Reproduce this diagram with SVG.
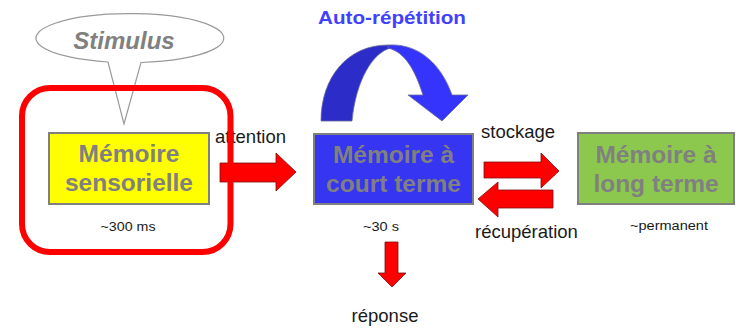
<svg xmlns="http://www.w3.org/2000/svg" width="736" height="329" viewBox="0 0 736 329">
  <style>
    .box { stroke: #808080; stroke-width: 2; }
    .boxText { font-family: "Liberation Sans", Arial, sans-serif; font-weight: bold; font-size: 24.5px; fill: #808080; text-anchor: middle; }
    .label { font-family: "Liberation Sans", Arial, sans-serif; font-size: 18.5px; fill: #1a1a1a; }
    .small { font-family: "Liberation Sans", Arial, sans-serif; font-size: 12.5px; fill: #1a1a1a; }
    .redArrow { fill: #ff0000; stroke: #7a1010; stroke-width: 0.8; stroke-linejoin: miter; }
  </style>

  <rect width="736" height="329" fill="#ffffff"/>

  <!-- connectors -->
  <g id="connectors">
    <!-- attention -->
    <polygon class="redArrow" points="220,163 276,163 276,153 296,172 276,191 276,182 220,182"/>
    <!-- stockage -->
    <polygon class="redArrow" points="484,162 541,162 541,153 559,171 541,188 541,178 484,178"/>
    <!-- recuperation -->
    <polygon class="redArrow" points="553,190 498,190 498,182 478,199 498,217 498,208 553,208"/>
    <!-- reponse -->
    <polygon class="redArrow" points="385,242 398,242 398,273 406,273 392,287 378,273 385,273"/>

    <!-- self-rehearsal loop -->
    <g id="loop" stroke="#6a6a9a" stroke-width="0.8" stroke-linejoin="round">
      <path d="M321,121 C321,78 347,45 388,45 L391,48 C373,52 356,80 352,121 Z" fill="#2c2cc8"/>
      <path d="M388,45 C420,43 442,66 452,95 L468,95 L442,121 L408,95 L423,95 C415,70 405,52 388,48 Z" fill="#3434fc"/>
    </g>
    <text x="318" y="24" font-family="Liberation Sans, Arial, sans-serif" font-weight="bold" font-size="17.5" fill="#4141ff" textLength="148" lengthAdjust="spacingAndGlyphs">Auto-répétition</text>

    <text class="label" x="215" y="143">attention</text>
    <text class="label" x="481" y="138">stockage</text>
    <text class="label" x="475" y="238">récupération</text>
    <text class="label" x="385" y="322" text-anchor="middle">réponse</text>
  </g>

  <!-- stimulus bubble -->
  <g id="stimulus">
    <path d="M108,62 A94,24.5 0 1 1 141,62.5 L124,124 Z" fill="#ffffff" stroke="#9a9a9a" stroke-width="1.2" stroke-linejoin="miter"/>
    <text x="124" y="49" font-family="Liberation Sans, Arial, sans-serif" font-weight="bold" font-style="italic" font-size="24" fill="#808080" text-anchor="middle">Stimulus</text>
  </g>

  <!-- sensory memory -->
  <g id="sensory">
    <rect class="box" x="49" y="133" width="160" height="71" fill="#ffff00"/>
    <text class="boxText" x="129" y="162">Mémoire</text>
    <text class="boxText" x="129" y="191">sensorielle</text>
    <text class="small" x="128" y="231" text-anchor="middle" textLength="55" lengthAdjust="spacingAndGlyphs">~300 ms</text>
  </g>

  <!-- short-term memory -->
  <g id="shortTerm">
    <rect class="box" x="314" y="134" width="159" height="70" fill="#3535f2"/>
    <text class="boxText" x="393.5" y="163">Mémoire à</text>
    <text class="boxText" x="393.5" y="192">court terme</text>
    <text class="small" x="381" y="231" text-anchor="middle" textLength="36" lengthAdjust="spacingAndGlyphs">~30 s</text>
  </g>

  <!-- long-term memory -->
  <g id="longTerm">
    <rect class="box" x="578" y="133" width="156" height="71" fill="#8cc84e"/>
    <text class="boxText" x="656" y="163">Mémoire à</text>
    <text class="boxText" x="656" y="192">long terme</text>
    <text class="small" x="669" y="230" text-anchor="middle" textLength="78" lengthAdjust="spacingAndGlyphs">~permanent</text>
  </g>

  <!-- highlight frame -->
  <g id="highlight">
    <rect x="22" y="88" width="208.5" height="164" rx="28" ry="28" fill="none" stroke="#ff0000" stroke-width="6"/>
  </g>
</svg>
